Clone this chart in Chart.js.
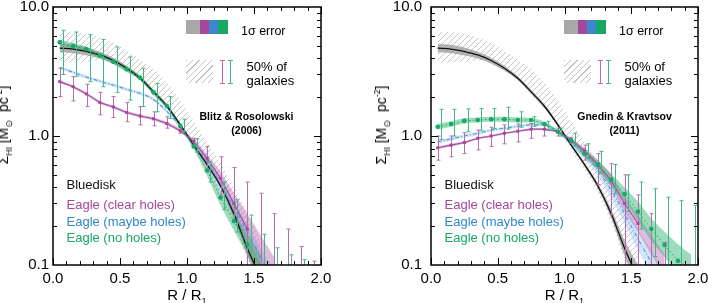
<!DOCTYPE html>
<html>
<head>
<meta charset="utf-8">
<script src="https://cdn.jsdelivr.net/npm/chart.js@4.4.1/dist/chart.umd.min.js"></script>
<style>
  body { margin: 0; background: #fff; }
  #page { position: relative; width: 708px; height: 303px; overflow: hidden; font-family: "Liberation Sans", Arial, sans-serif; color: #000; }
  .panel { position: absolute; top: 0; width: 354px; height: 303px; overflow: hidden; }
  .panel canvas { position: absolute; left: 0; top: 0; }
  .lbl { position: absolute; white-space: nowrap; line-height: 1; transform: translateY(-50%); }
  .ctr { transform: translate(-50%, -50%); text-align: center; }
  .ref { font-weight: bold; font-size: 10.5px; }
  .sw { position: absolute; }
  .hatch { background: repeating-linear-gradient(135deg, #c2c2c2 0 1px, transparent 1px 4.5px); }
  .ebar { position: absolute; width: 5px; border-top: 1px solid; border-bottom: 1px solid; box-sizing: border-box; }
  .ebar::after { content: ''; position: absolute; left: 2px; top: 0; bottom: 0; border-left: 1px solid; }
  sub, sup { font-size: 0.62em; line-height: 0; }
</style>
</head>
<body>
<div id="page">
  <div class="panel" id="p1" style="left:0"><canvas id="c1" width="354" height="303"></canvas></div>
  <div class="panel" id="p2" style="left:354px"><canvas id="c2" width="354" height="303"></canvas></div>
</div>
<script>
// radial bins R / R1
const RADII = [0.05, 0.15, 0.25, 0.35, 0.45, 0.55, 0.65, 0.75, 0.85, 0.95,
               1.05, 1.15, 1.25, 1.35, 1.45, 1.55, 1.65, 1.75, 1.85, 1.95];

// Bluedisk (same in both panels)
const bluedisk     = [4.80, 4.72, 4.52, 4.25, 3.85, 3.35, 2.80, 2.20, 1.70, 1.22, 0.85, 0.60, 0.41, 0.25, 0.135, 0.080];
const bluediskHi   = [5.20, 5.10, 4.85, 4.50, 4.05, 3.50, 2.90, 2.28, 1.76, 1.26, 0.88, 0.62, 0.43, 0.27, 0.155, 0.100];
const bluediskLo   = [4.45, 4.38, 4.20, 3.98, 3.65, 3.20, 2.70, 2.12, 1.64, 1.18, 0.82, 0.58, 0.39, 0.23, 0.118, 0.065];
const bluedisk50Hi = [6.5, 6.4, 6.2, 5.8, 5.3, 4.6, 3.9, 3.3, 2.6, 1.9, 1.3, 0.9, 0.62, 0.40, 0.26, 0.15];
const bluedisk50Lo = [3.7, 3.72, 3.75, 3.85, 3.65, 3.2, 2.7, 2.12, 1.64, 1.15, 0.78, 0.54, 0.36, 0.21, 0.11, 0.065];

// Blitz & Rosolowski (2006)
const brClear       = [2.64, 2.41, 2.12, 1.82, 1.68, 1.52, 1.43, 1.36, 1.25, 1.10, 0.91, 0.67, 0.47, 0.30, 0.19];
const brClearErrHi  = [3.35, 2.88, 2.52, 2.18, 2.02, 1.82, 1.69, 1.54, 1.41, 1.16, 0.96, 0.83, 0.69, 0.57, 0.44, 0.36, 0.25, 0.19, 0.139, 0.107];
const brClearErrLo  = [2.02, 1.87, 1.69, 1.46, 1.39, 1.29, 1.22, 1.20, 1.15, 1.05, 0.85, 0.53, 0.35, 0.22, 0.05, 0.05, 0.05, 0.05, 0.05, 0.05];
const brClearBandHi = [2.71, 2.47, 2.17, 1.87, 1.72, 1.56, 1.47, 1.40, 1.29, 1.14, 0.95, 0.72, 0.53, 0.36, 0.25, 0.17, 0.115];
const brClearBandLo = [2.57, 2.35, 2.07, 1.77, 1.64, 1.48, 1.39, 1.32, 1.21, 1.06, 0.87, 0.62, 0.42, 0.25, 0.15, 0.095, 0.065];
const brMaybe       = [3.39, 3.12, 2.86, 2.66, 2.48, 2.30, 2.14, 1.92, 1.55, 1.18, 0.87, 0.63, 0.43, 0.28, 0.18, 0.115, 0.075];
const brMaybeHi     = [3.49, 3.21, 2.94, 2.74, 2.55, 2.37, 2.20, 1.98, 1.60, 1.22, 0.91, 0.67, 0.47, 0.31, 0.205, 0.135, 0.09];
const brMaybeLo     = [3.29, 3.03, 2.78, 2.58, 2.41, 2.23, 2.08, 1.86, 1.50, 1.14, 0.83, 0.59, 0.39, 0.25, 0.158, 0.098, 0.062];
const brNone        = [5.32, 5.00, 4.70, 4.20, 3.77, 3.29, 2.83, 2.18, 1.71, 1.20, 0.83, 0.54, 0.333, 0.219, 0.144];
const brNoneErrHi   = [6.6, 6.4, 6.1, 5.6, 4.9, 4.1, 3.35, 2.56, 2.02, 1.35, 0.95, 0.63, 0.44, 0.32, 0.244, 0.173, 0.136, 0.12, 0.11];
const brNoneErrLo   = [3.0, 2.9, 2.64, 2.41, 2.18, 1.90, 1.69, 1.54, 1.37, 1.08, 0.75, 0.44, 0.27, 0.18, 0.127, 0.05, 0.05, 0.05, 0.05];
const brNoneBandHi  = [5.6, 5.25, 4.92, 4.4, 3.95, 3.45, 2.96, 2.28, 1.78, 1.25, 0.87, 0.59, 0.38, 0.255, 0.175, 0.12];
const brNoneBandLo  = [5.05, 4.76, 4.48, 4.0, 3.6, 3.14, 2.7, 2.08, 1.64, 1.15, 0.79, 0.49, 0.29, 0.185, 0.12, 0.08];

// Gnedin & Kravtsov (2011)
const gkClear       = [0.81, 0.85, 0.89, 0.96, 1.00, 1.05, 1.09, 1.13, 1.13, 1.08, 0.93, 0.77, 0.60, 0.45, 0.30, 0.21];
const gkClearErrHi  = [1.0, 1.0, 1.06, 1.11, 1.17, 1.22, 1.24, 1.25, 1.25, 1.15, 0.97, 0.85, 0.73, 0.61, 0.50, 0.35, 0.25, 0.15];
const gkClearErrLo  = [0.65, 0.69, 0.73, 0.78, 0.83, 0.87, 0.90, 0.96, 1.0, 1.0, 0.88, 0.65, 0.42, 0.245, 0.05, 0.05, 0.05, 0.05];
const gkClearBandHi = [0.83, 0.87, 0.91, 0.98, 1.02, 1.07, 1.11, 1.15, 1.15, 1.10, 0.96, 0.81, 0.65, 0.50, 0.34, 0.245, 0.17, 0.12];
const gkClearBandLo = [0.79, 0.83, 0.87, 0.94, 0.98, 1.03, 1.07, 1.11, 1.11, 1.06, 0.90, 0.73, 0.55, 0.40, 0.26, 0.18, 0.12, 0.08];
const gkMaybe       = [0.90, 0.95, 1.00, 1.05, 1.11, 1.15, 1.19, 1.22, 1.22, 1.08, 0.88, 0.72, 0.54, 0.38, 0.25, 0.16, 0.105, 0.07];
const gkMaybeHi     = [0.93, 0.98, 1.03, 1.08, 1.14, 1.18, 1.22, 1.25, 1.25, 1.11, 0.92, 0.77, 0.59, 0.43, 0.29, 0.19, 0.13, 0.09];
const gkMaybeLo     = [0.87, 0.92, 0.97, 1.02, 1.08, 1.12, 1.16, 1.19, 1.19, 1.05, 0.84, 0.67, 0.49, 0.33, 0.21, 0.13, 0.085, 0.055];
const gkNone        = [1.18, 1.24, 1.31, 1.33, 1.35, 1.35, 1.33, 1.33, 1.24, 1.08, 0.92, 0.73, 0.60, 0.46, 0.355, 0.26, 0.19, 0.143, 0.108];
const gkNoneErrHi   = [1.61, 1.61, 1.62, 1.63, 1.63, 1.67, 1.54, 1.41, 1.30, 1.15, 1.05, 0.87, 0.76, 0.60, 0.50, 0.44, 0.39, 0.335, 0.315, 0.29];
const gkNoneErrLo   = [0.94, 1.0, 1.08, 1.11, 1.14, 1.13, 1.17, 1.19, 1.10, 1.0, 0.85, 0.67, 0.51, 0.36, 0.26, 0.19, 0.116, 0.05, 0.05, 0.05];
const gkNoneBandHi  = [1.24, 1.30, 1.37, 1.39, 1.41, 1.41, 1.39, 1.38, 1.29, 1.12, 0.96, 0.78, 0.65, 0.51, 0.40, 0.31, 0.23, 0.18, 0.145, 0.12];
const gkNoneBandLo  = [1.12, 1.18, 1.25, 1.27, 1.29, 1.29, 1.27, 1.28, 1.19, 1.04, 0.88, 0.68, 0.55, 0.41, 0.31, 0.22, 0.155, 0.115, 0.085, 0.065];

const FONT = '"Liberation Sans", Arial, sans-serif';
const MAGENTA = '#a6479c';
const MAGENTA_BAR = '#b96bb0';
const BLUE = '#4f9be0';
const GREEN = '#17a865';
const GREEN_BAR = '#3fb881';

const hatchPattern = (() => {
  const c = document.createElement('canvas');
  c.width = 6; c.height = 6;
  const g = c.getContext('2d');
  g.strokeStyle = '#bdbdbd';
  g.lineWidth = 0.9;
  g.beginPath();
  g.moveTo(-1, 7); g.lineTo(7, -1);
  g.stroke();
  return g.createPattern(c, 'repeat');
})();

const pts = vals => vals.map((v, i) => ({x: RADII[i], y: v}));

const band = (lo, hi, color, order) => [
  {data: pts(lo), borderColor: 'rgba(0,0,0,0)', borderWidth: 0, pointRadius: 0, fill: false, order,
   cubicInterpolationMode: 'monotone'},
  {data: pts(hi), borderColor: 'rgba(0,0,0,0)', borderWidth: 0, pointRadius: 0, fill: '-1', backgroundColor: color, order,
   cubicInterpolationMode: 'monotone'},
];

// error bars drawn just below their points
const errorBars = {
  id: 'errorBars',
  beforeDatasetDraw(chart, args) {
    const ds = chart.data.datasets[args.index];
    if (!ds.errHi) return;
    const {ctx, chartArea: a, scales: {x, y}} = chart;
    ctx.save();
    ctx.beginPath();
    ctx.rect(a.left, a.top, a.right - a.left, a.bottom - a.top);
    ctx.clip();
    ctx.strokeStyle = ds.errColor;
    ctx.lineWidth = 1;
    ds.errHi.forEach((hi, i) => {
      const px = Math.round(x.getPixelForValue(RADII[i] + ds.errShift)) + 0.5;
      const top = y.getPixelForValue(hi);
      const bot = y.getPixelForValue(ds.errLo[i]);
      ctx.beginPath();
      ctx.moveTo(px, top); ctx.lineTo(px, bot);
      ctx.moveTo(px - 2, top); ctx.lineTo(px + 2, top);
      ctx.moveTo(px - 2, bot); ctx.lineTo(px + 2, bot);
      ctx.stroke();
    });
    ctx.restore();
  }
};

// box with inward ticks on all four sides
const frame = {
  id: 'frame',
  afterDraw(chart) {
    const {ctx, chartArea: a, scales: {x, y}} = chart;
    ctx.save();
    ctx.strokeStyle = '#000';
    ctx.lineWidth = 1;
    ctx.beginPath();
    for (let i = 0; i <= 20; i++) {
      const px = Math.round(x.getPixelForValue(i / 10)) + 0.5;
      const len = i % 5 === 0 ? 7 : 4;
      ctx.moveTo(px, a.bottom); ctx.lineTo(px, a.bottom - len);
      ctx.moveTo(px, a.top); ctx.lineTo(px, a.top + len);
    }
    [0.1, 1].forEach(decade => {
      for (let m = 1; m <= 9; m++) {
        if (decade === 0.1 && m === 1) continue;
        const py = Math.round(y.getPixelForValue(decade * m)) + 0.5;
        const len = m === 1 ? 7 : 4;
        ctx.moveTo(a.left, py); ctx.lineTo(a.left + len, py);
        ctx.moveTo(a.right, py); ctx.lineTo(a.right - len, py);
      }
    });
    ctx.stroke();
    ctx.lineWidth = 1.5;
    ctx.strokeRect(a.left, a.top, a.right - a.left, a.bottom - a.top);
    ctx.restore();
  }
};

const drawPanel = (canvasId, boxLeft, padRight, tickPad, e) => {
  const datasets = [
    {data: pts(e.none), order: 1, borderColor: GREEN, borderWidth: 1, borderDash: [1.5, 2.5],
     pointRadius: 2.3, pointBackgroundColor: GREEN, pointBorderWidth: 0,
     errHi: e.noneHi, errLo: e.noneLo, errShift: 0.025, errColor: GREEN_BAR},
    {data: pts(e.clear), order: 2, borderColor: MAGENTA, borderWidth: 1.1,
     pointStyle: 'rect', pointRadius: 2.1, pointBackgroundColor: MAGENTA, pointBorderWidth: 0,
     errHi: e.clearHi, errLo: e.clearLo, errShift: 0, errColor: MAGENTA_BAR},
    {data: pts(bluedisk), order: 3, borderColor: '#111', borderWidth: 1.3, pointRadius: 0,
     cubicInterpolationMode: 'monotone'},
    {data: pts(e.maybe), order: 4, borderColor: BLUE, borderWidth: 1.1, borderDash: [4, 2, 1, 2], pointRadius: 0,
     cubicInterpolationMode: 'monotone'},
    ...band(e.noneBandLo, e.noneBandHi, 'rgba(40,176,108,0.45)', 5),
    ...band(e.clearBandLo, e.clearBandHi, 'rgba(182,96,172,0.42)', 6),
    ...band(e.maybeLo, e.maybeHi, 'rgba(160,196,242,0.45)', 7),
    ...band(bluediskLo, bluediskHi, 'rgba(150,150,150,0.72)', 8),
    ...band(bluedisk50Lo, bluedisk50Hi, hatchPattern, 9),
  ];
  datasets.forEach(d => { d.clip = 0; });

  new Chart(document.getElementById(canvasId), {
    type: 'line',
    data: {datasets},
    plugins: [errorBars, frame],
    options: {
      responsive: false,
      animation: false,
      devicePixelRatio: 1,
      events: [],
      layout: {padding: {left: 0, top: 7, right: padRight, bottom: 0}},
      plugins: {legend: {display: false}, tooltip: {enabled: false}},
      scales: {
        x: {
          type: 'linear', min: 0, max: 2,
          grid: {display: false, drawTicks: false},
          border: {display: false},
          ticks: {stepSize: 0.5, padding: 5, color: '#000', maxRotation: 0, autoSkip: false,
                  font: {family: FONT, size: 15}, callback: v => v.toFixed(1)},
          afterFit: s => { s.height = 38; s.paddingLeft = 0; s.paddingRight = 0; },
        },
        y: {
          type: 'logarithmic', min: 0.1, max: 10,
          grid: {display: false, drawTicks: false},
          border: {display: false},
          ticks: {padding: tickPad, color: '#000', font: {family: FONT, size: 15},
                  callback: v => Number(v).toFixed(1)},
          afterBuildTicks: s => { s.ticks = [0.1, 1, 10].map(value => ({value})); },
          afterFit: s => { s.width = boxLeft; s.paddingTop = 0; s.paddingBottom = 0; },
        },
      },
    },
  });
};

const addLabels = (panelId, bl, boxW, refLines) => {
  const panel = document.getElementById(panelId);
  const add = (html, cls, style) => {
    const d = document.createElement('div');
    d.className = cls;
    d.innerHTML = html;
    Object.assign(d.style, style);
    panel.appendChild(d);
    return d;
  };
  // 1 sigma swatches
  [['#a8a8a8', 133, 14], [MAGENTA, 147, 9], ['#3b87d0', 156, 9.3], [GREEN, 165.3, 9.4]].forEach(([c, x, w]) => {
    add('', 'sw', {left: (bl + x) + 'px', top: '20px', width: w + 'px', height: '14px', background: c});
  });
  add('1&sigma; error', 'lbl', {left: (bl + 188) + 'px', top: '31.3px', fontSize: '12.5px'});
  // 50% swatches
  add('', 'sw hatch', {left: (bl + 133) + 'px', top: '60px', width: '27px', height: '23px'});
  add('', 'ebar', {left: (bl + 167) + 'px', top: '60px', height: '24px', color: MAGENTA_BAR});
  add('', 'ebar', {left: (bl + 175) + 'px', top: '60px', height: '24px', color: GREEN_BAR});
  add('50% of', 'lbl', {left: (bl + 193.5) + 'px', top: '66.3px', fontSize: '13px'});
  add('galaxies', 'lbl', {left: (bl + 193.5) + 'px', top: '80px', fontSize: '13px'});
  // model reference
  add(refLines[0], 'lbl ctr ref', {left: (bl + 193.5) + 'px', top: '116px'});
  add(refLines[1], 'lbl ctr ref', {left: (bl + 193.5) + 'px', top: '130px'});
  // sample legend
  [['Bluedisk', '#111', 183.8], ['Eagle (clear holes)', MAGENTA, 204.3],
   ['Eagle (maybe holes)', '#2f88cc', 220.8], ['Eagle (no holes)', GREEN, 237.3]].forEach(([t, c, y]) => {
    add(t, 'lbl', {left: (bl + 13.5) + 'px', top: y + 'px', fontSize: '13px', color: c});
  });
  // axis titles
  add('&Sigma;<sub>HI</sub> [M<sub>&#8857;</sub>&nbsp; pc<sup>-2</sup>]', 'lbl', {
    left: (bl - 50) + 'px', top: '125px', fontSize: '14px',
    transform: 'translate(-50%, -50%) rotate(-90deg)'});
  add('R / R<sub>1</sub>', 'lbl ctr', {left: (bl + boxW / 2) + 'px', top: '294px', fontSize: '15px'});
};

drawPanel('c1', 53, 33, 4, {
  clear: brClear, clearHi: brClearErrHi, clearLo: brClearErrLo,
  clearBandHi: brClearBandHi, clearBandLo: brClearBandLo,
  maybe: brMaybe, maybeHi: brMaybeHi, maybeLo: brMaybeLo,
  none: brNone, noneHi: brNoneErrHi, noneLo: brNoneErrLo,
  noneBandHi: brNoneBandHi, noneBandLo: brNoneBandLo,
});
drawPanel('c2', 77, 10, 9, {
  clear: gkClear, clearHi: gkClearErrHi, clearLo: gkClearErrLo,
  clearBandHi: gkClearBandHi, clearBandLo: gkClearBandLo,
  maybe: gkMaybe, maybeHi: gkMaybeHi, maybeLo: gkMaybeLo,
  none: gkNone, noneHi: gkNoneErrHi, noneLo: gkNoneErrLo,
  noneBandHi: gkNoneBandHi, noneBandLo: gkNoneBandLo,
});

addLabels('p1', 53, 268, ['Blitz &amp; Rosolowski', '(2006)']);
addLabels('p2', 77, 267, ['Gnedin &amp; Kravtsov', '(2011)']);
</script>
</body>
</html>
